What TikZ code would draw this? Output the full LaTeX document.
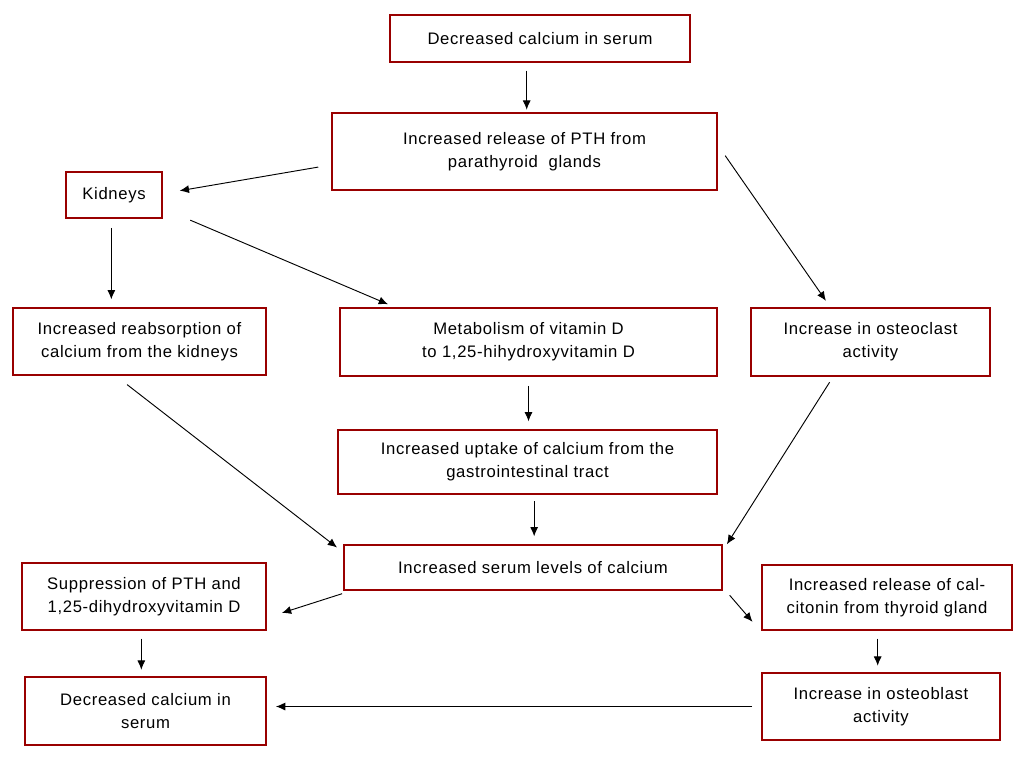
\documentclass[tikz,border=0pt]{standalone}
\usepackage{fontspec}
\setmainfont{Liberation Sans}[LetterSpace=4]
\usetikzlibrary{arrows.meta}
\begin{document}
\begin{tikzpicture}[x=0.75pt,y=-0.75pt,
  box/.style={draw=red!60!black,line width=0.9pt,fill=white,align=center,inner sep=0pt,font=\fontsize{12.5}{17}\selectfont},
  arr/.style={-{Latex[length=7pt,width=6pt]},line width=0.7pt,black}]
\useasboundingbox (0,0) rectangle (1024,768);
\def\bx#1#2#3#4#5#6{\node[box,minimum width={(#4-#2)*0.75pt},minimum height={(#5-#3)*0.75pt}] (#1) at ({(#2+#4)/2},{(#3+#5)/2}) {#6};}
\bx{a}{390}{15}{690}{62}{Decreased calcium in serum}
\bx{b}{332}{113}{717}{190}{Increased release of PTH from\\parathyroid\ \ glands}
\bx{k}{66}{172}{162}{218}{Kidneys}
\bx{r}{13}{308}{266}{375}{Increased reabsorption of\\calcium from the kidneys}
\bx{m}{340}{308}{717}{376}{Metabolism of vitamin D\\to 1,25-hihydroxyvitamin D}
\bx{o}{751}{308}{990}{376}{Increase in osteoclast\\activity}
\bx{u}{338}{430}{717}{494}{Increased uptake of calcium from the\\gastrointestinal tract}
\bx{s}{344}{545}{722}{590}{Increased serum levels of calcium}
\bx{p}{22}{563}{266}{630}{Suppression of PTH and\\1,25-dihydroxyvitamin D}
\bx{c}{762}{565}{1012}{630}{Increased release of cal-\\citonin from thyroid gland}
\bx{d}{25}{677}{266}{745}{Decreased calcium in\\serum}
\bx{ob}{762}{673}{1000}{740}{Increase in osteoblast\\activity}
\draw[arr,shorten <=6pt,shorten >=2pt] ([xshift=-10]a.south) -- ([xshift=-10]a.south|-b.north);
\draw[arr,shorten <=10pt,shorten >=13pt] ([yshift=-10]b.west) -- ([yshift=1]k.east);
\draw[arr,shorten <=7pt,shorten >=6pt] ([xshift=-2]k.south) -- ([xshift=-2]k.south|-r.north);
\draw[arr,shorten <=3pt,shorten >=6pt] ([xshift=18]k.south east) -- ([xshift=42]m.north west);
\draw[arr,shorten <=3pt,shorten >=6pt] ([yshift=-30,xshift=4]b.north east) -- ([xshift=-30]o.north);
\draw[arr,shorten <=7pt,shorten >=6pt] (m.south) -- (m.south|-u.north);
\draw[arr,shorten <=11pt,shorten >=6pt] ([xshift=-18]r.south) -- ([yshift=-6]s.north west);
\draw[arr,shorten <=5pt,shorten >=6pt] ([xshift=5]u.south) -- ([xshift=5]u.south|-s.north);
\draw[arr,shorten <=5pt,shorten >=6pt] ([xshift=-28]o.south) -- ([yshift=-5]s.north east);
\draw[arr,shorten <=1pt,shorten >=12pt] ([yshift=-2]s.south west) -- ([yshift=-16]p.east);
\draw[arr,shorten <=2pt,shorten >=1pt] ([xshift=4,yshift=-2]s.south east) -- ([xshift=-6,yshift=-19]c.west);
\draw[arr,shorten <=6pt,shorten >=5pt] ([xshift=-2]p.south) -- ([xshift=-2]p.south|-d.north);
\draw[arr,shorten <=6pt,shorten >=5pt] ([xshift=-7]c.south) -- ([xshift=-7]c.south|-ob.north);
\draw[arr,shorten <=7pt,shorten >=7pt] (ob.west) -- (ob.west-|d.east);
\end{tikzpicture}
\end{document}
